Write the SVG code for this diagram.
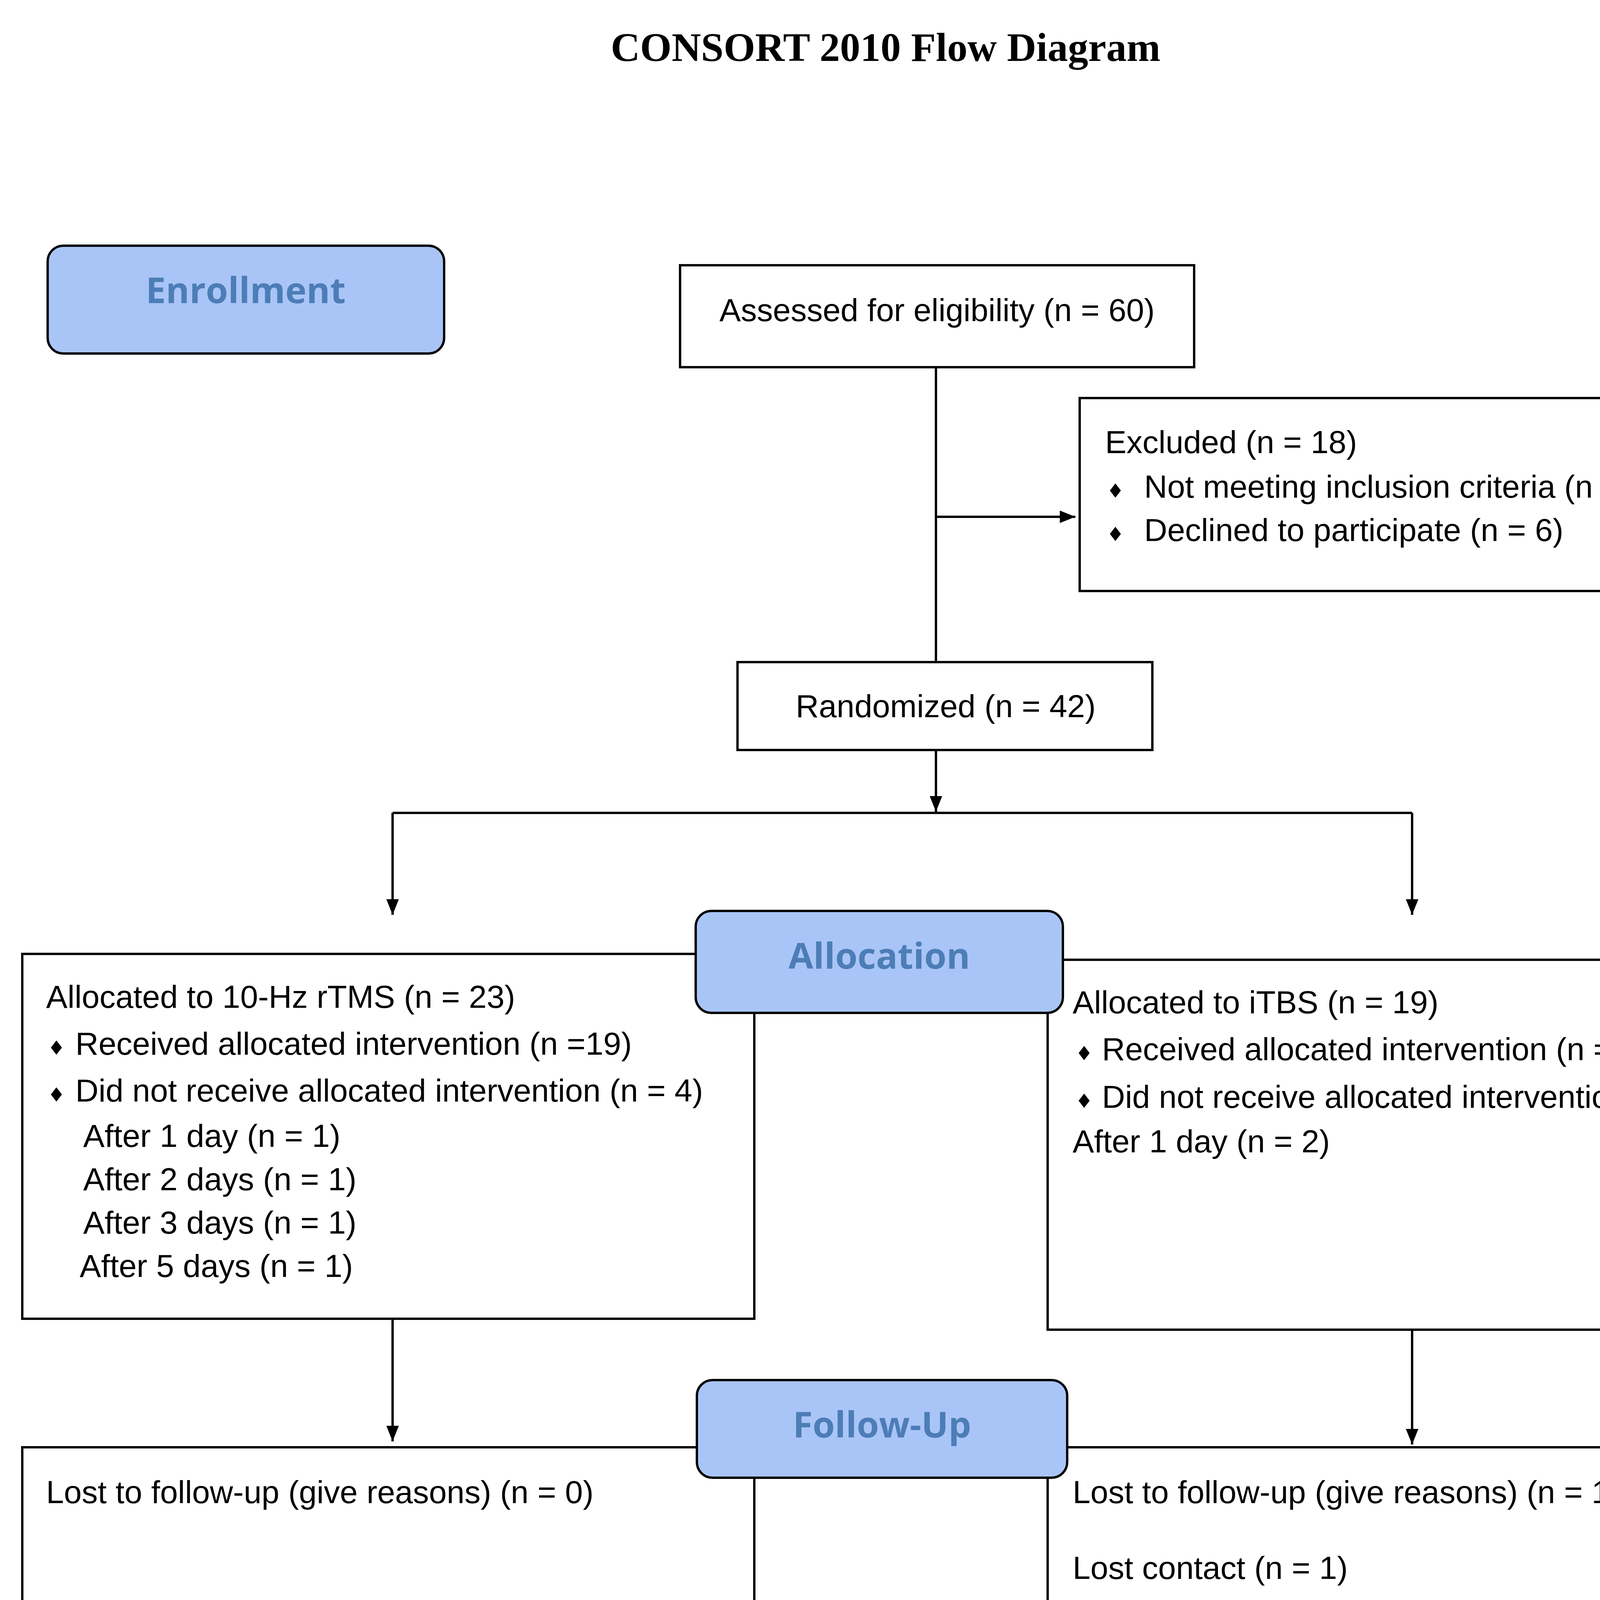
<svg xmlns="http://www.w3.org/2000/svg" width="4588" height="5592" viewBox="0 0 4588 5592">
<style>
.box{fill:#fff;stroke:#000;stroke-width:6}
.hdr{fill:#a9c5f7;stroke:#000;stroke-width:6}
.ht{font-family:"Open Sans","Liberation Sans",sans-serif;font-weight:bold;font-size:92px;fill:#4d7db7;text-anchor:middle}
.t{font-family:"Liberation Sans",Arial,sans-serif;font-size:82px;fill:#000}
.b{font-family:"DejaVu Sans",sans-serif;font-size:50px;fill:#000}
.ln{stroke:#000;stroke-width:6;fill:none}
</style>
<defs><marker id="a" viewBox="0 0 10 10" markerWidth="40" markerHeight="40" refX="10" refY="5" orient="auto" markerUnits="userSpaceOnUse"><path d="M0,1 L10,5 L0,9 z" fill="#000"/></marker></defs>
<rect width="4588" height="5592" fill="#fff"/>
<text x="2267" y="156" font-family="Liberation Serif,serif" font-weight="bold" font-size="104" text-anchor="middle">CONSORT 2010 Flow Diagram</text>
<g id="connectors">
<line class="ln" x1="2396" y1="940" x2="2396" y2="1695"/>
<line class="ln" x1="2396" y1="1323" x2="2753" y2="1323" marker-end="url(#a)"/>
<line class="ln" x1="2396" y1="1920" x2="2396" y2="2078" marker-end="url(#a)"/>
<line class="ln" x1="1005" y1="2081" x2="3615" y2="2081"/>
<line class="ln" x1="1005" y1="2081" x2="1005" y2="2342" marker-end="url(#a)"/>
<line class="ln" x1="3615" y1="2081" x2="3615" y2="2342" marker-end="url(#a)"/>
<line class="ln" x1="1005" y1="3376" x2="1005" y2="3690" marker-end="url(#a)"/>
<line class="ln" x1="3615" y1="3397" x2="3615" y2="3698" marker-end="url(#a)"/>
<line class="ln" x1="1044" y1="4212" x2="2074" y2="4634" marker-end="url(#a)"/>
<line class="ln" x1="3512" y1="4234" x2="2528" y2="4634" marker-end="url(#a)"/>
</g>
<g id="enrollment"><rect class="hdr" x="122" y="629" width="1015" height="276" rx="40"/><text class="ht" x="629" y="776">Enrollment</text></g>
<g id="assessed"><rect class="box" x="1741" y="679" width="1316" height="261"/><text class="t" x="2399" y="822" text-anchor="middle">Assessed for eligibility (n = 60)</text></g>
<g id="excluded"><rect class="box" x="2764" y="1019" width="1688" height="494"/>
<text class="t" x="2829" y="1160">Excluded (n = 18)</text>
<text class="b" x="2833" y="1274">♦</text><text class="t" x="2929" y="1274">Not meeting inclusion criteria (n = 12)</text>
<text class="b" x="2833" y="1385">♦</text><text class="t" x="2929" y="1385">Declined to participate (n = 6)</text></g>
<g id="randomized"><rect class="box" x="1888" y="1695" width="1062" height="225"/><text class="t" x="2421" y="1836" text-anchor="middle">Randomized (n = 42)</text></g>
<g id="alloc-left"><rect class="box" x="57" y="2442" width="1874" height="934"/>
<text class="t" x="118" y="2580">Allocated to 10-Hz rTMS (n = 23)</text>
<text class="b" x="122" y="2700">♦</text><text class="t" x="193" y="2700">Received allocated intervention (n =19)</text>
<text class="b" x="122" y="2820">♦</text><text class="t" x="193" y="2820">Did not receive allocated intervention (n = 4)</text>
<text class="t" x="213" y="2936">After 1 day (n = 1)</text>
<text class="t" x="213" y="3047">After 2 days (n = 1)</text>
<text class="t" x="213" y="3158">After 3 days (n = 1)</text>
<text class="t" x="204" y="3269">After 5 days (n = 1)</text></g>
<g id="alloc-right"><rect class="box" x="2682" y="2457" width="1870" height="947"/>
<text class="t" x="2746" y="2594">Allocated to iTBS (n = 19)</text>
<text class="b" x="2753" y="2714">♦</text><text class="t" x="2821" y="2714">Received allocated intervention (n =17)</text>
<text class="b" x="2753" y="2836">♦</text><text class="t" x="2821" y="2836">Did not receive allocated intervention (n = 2)</text>
<text class="t" x="2746" y="2950">After 1 day (n = 2)</text></g>
<g id="allocation"><rect class="hdr" x="1781" y="2332" width="940" height="261" rx="40"/><text class="ht" x="2251" y="2480">Allocation</text></g>
<g id="fu-left"><rect class="box" x="57" y="3705" width="1874" height="500"/><text class="t" x="118" y="3848">Lost to follow-up (give reasons) (n = 0)</text></g>
<g id="fu-right"><rect class="box" x="2682" y="3705" width="1870" height="500"/><text class="t" x="2746" y="3848">Lost to follow-up (give reasons) (n = 1)</text><text class="t" x="2746" y="4042">Lost contact (n = 1)</text></g>
<g id="followup"><rect class="hdr" x="1784" y="3533" width="948" height="250" rx="40"/><text class="ht" x="2258" y="3680">Follow-Up</text></g>
<g id="analyzed"><rect class="box" x="769" y="4874" width="1967" height="679"/>
<text class="t" x="830" y="5020">Analyzed (n = 29)</text>
<text class="b" x="834" y="5220">♦</text><text class="t" x="905" y="5220">Excluded from this study (n = 6)</text>
<text class="t" x="855" y="5335">Unwilling to provide baseline EEG data (n = 5)</text>
<text class="t" x="855" y="5446">EEG data damaged (n = 1)</text></g>
<g id="controls"><rect class="box" x="3043" y="4874" width="1509" height="679"/>
<text class="t" x="3108" y="5020">Heathy controls analyzed (n = 29)</text>
<text class="b" x="3112" y="5220">♦</text><text class="t" x="3183" y="5220">Baseline EEG assessment (n =</text>
<text class="t" x="3258" y="5328">29)</text></g>
<g id="analysis"><rect class="hdr" x="1788" y="4645" width="937" height="236" rx="40"/><text class="ht" x="2256" y="4792">Analysis</text></g>
</svg>
